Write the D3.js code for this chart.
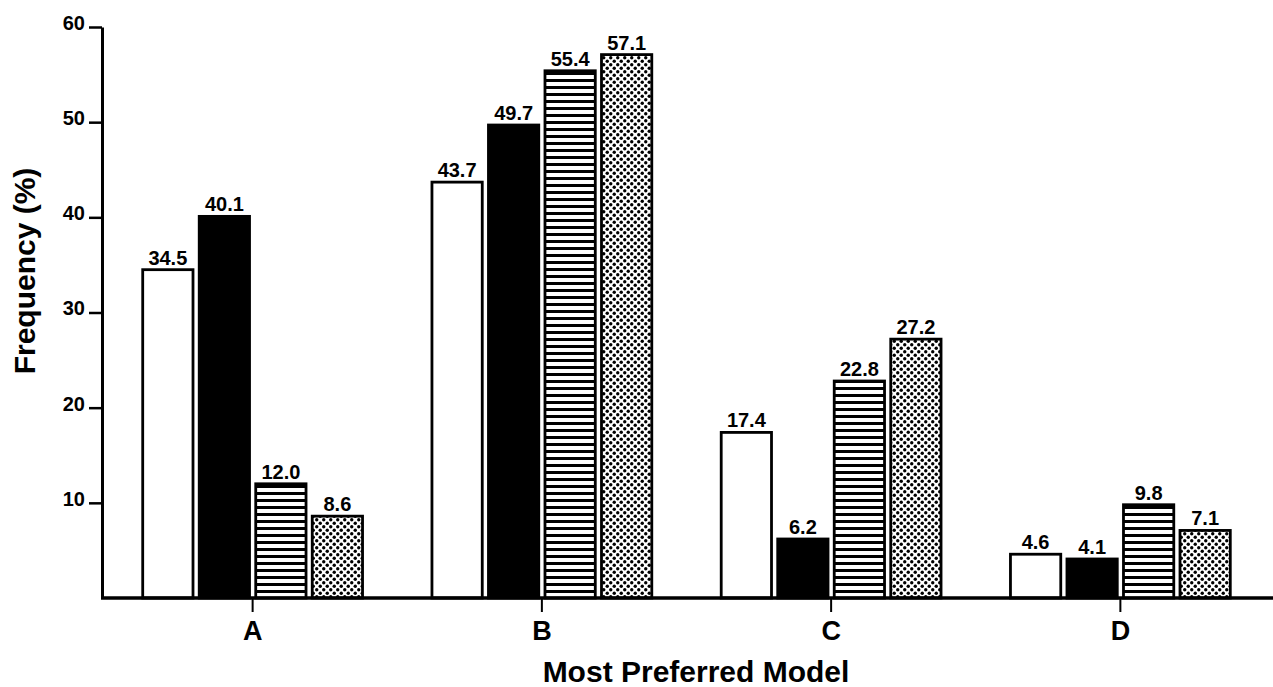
<!DOCTYPE html>
<html>
<head>
<meta charset="utf-8">
<script src="https://cdn.jsdelivr.net/npm/d3@7"></script>
<style>
  body { margin: 0; background: #fff; }
  text { font-family: "Liberation Sans", Arial, Helvetica, sans-serif; font-weight: bold; fill: #000; }
</style>
</head>
<body>
<div id="wrapper"></div>
<script>
// data
const categories = ["A", "B", "C", "D"];
const series = ["s1", "s2", "s3", "s4"];   // white, black, striped, dotted
const s1Values = [34.5, 43.7, 17.4, 4.6];
const s2Values = [40.1, 49.7, 6.2, 4.1];
const s3Values = [12.0, 55.4, 22.8, 9.8];
const s4Values = [8.6, 57.1, 27.2, 7.1];
const yTicks = [10, 20, 30, 40, 50, 60];

const valuesBySeries = { s1: s1Values, s2: s2Values, s3: s3Values, s4: s4Values };
const fills = { s1: "#fff", s2: "#000", s3: "url(#stripes)", s4: "url(#dots)" };

const dims = { width: 1273, height: 687 };

const svg = d3.select("#wrapper").append("svg")
  .attr("width", dims.width)
  .attr("height", dims.height);

// patterns
const defs = svg.append("defs");
const stripes = defs.append("pattern")
  .attr("id", "stripes")
  .attr("patternUnits", "userSpaceOnUse")
  .attr("width", 8).attr("height", 7);
stripes.append("rect").attr("width", 8).attr("height", 7).attr("fill", "#fff");
stripes.append("rect").attr("y", 2).attr("width", 8).attr("height", 3).attr("fill", "#000");

const dots = defs.append("pattern")
  .attr("id", "dots")
  .attr("patternUnits", "userSpaceOnUse")
  .attr("width", 7).attr("height", 7);
dots.append("rect").attr("width", 7).attr("height", 7).attr("fill", "#fff");
dots.append("circle").attr("cx", 1.75).attr("cy", 1.75).attr("r", 1.7).attr("fill", "#000");
dots.append("circle").attr("cx", 5.25).attr("cy", 5.25).attr("r", 1.7).attr("fill", "#000");

// scales
const x = d3.scaleBand()
  .domain(categories)
  .range([108, 1265])
  .paddingInner(0.24)
  .paddingOuter(0.12);

const x1 = d3.scaleBand()
  .domain(series)
  .range([0, x.bandwidth()])
  .paddingInner(0.11);

const y = d3.scaleLinear()
  .domain([0, 60])
  .range([598, 27]);

// bars
const rows = [];
categories.forEach((c, i) => {
  series.forEach(s => rows.push({ cat: c, s: s, v: valuesBySeries[s][i] }));
});

svg.append("g").selectAll("rect")
  .data(rows)
  .join("rect")
  .attr("x", d => x(d.cat) + x1(d.s))
  .attr("y", d => y(d.v))
  .attr("width", x1.bandwidth())
  .attr("height", d => y(0) - y(d.v))
  .attr("fill", d => fills[d.s])
  .attr("stroke", "#000")
  .attr("stroke-width", 2.8);

// value labels
svg.append("g").selectAll("text")
  .data(rows)
  .join("text")
  .attr("x", d => x(d.cat) + x1(d.s) + x1.bandwidth() / 2)
  .attr("y", d => y(d.v) - 5)
  .attr("text-anchor", "middle")
  .attr("font-size", 20)
  .text(d => d.v.toFixed(1));

// y axis
const yAxis = svg.append("g")
  .attr("transform", "translate(102,0)")
  .call(d3.axisLeft(y).tickValues(yTicks).tickSize(13).tickSizeOuter(0).tickPadding(4));
yAxis.select(".domain").attr("stroke", "#000").attr("stroke-width", 3);
yAxis.selectAll(".tick line").attr("stroke", "#000").attr("stroke-width", 2.5);
yAxis.selectAll(".tick text")
  .attr("font-size", 20)
  .attr("font-family", "\"Liberation Sans\", Arial, sans-serif")
  .attr("font-weight", "bold")
  .attr("dy", "0.12em")
  .attr("fill", "#000");

// x axis
const xAxis = svg.append("g")
  .attr("transform", "translate(0,598)")
  .call(d3.axisBottom(x).tickSize(14).tickSizeOuter(0).tickPadding(9));
xAxis.select(".domain").remove();
xAxis.selectAll(".tick line").attr("stroke", "#000").attr("stroke-width", 2);
xAxis.selectAll(".tick text")
  .attr("font-size", 27)
  .attr("font-family", "\"Liberation Sans\", Arial, sans-serif")
  .attr("font-weight", "bold")
  .attr("fill", "#000");

svg.append("line")
  .attr("x1", 101).attr("x2", dims.width)
  .attr("y1", y(0)).attr("y2", y(0))
  .attr("stroke", "#000")
  .attr("stroke-width", 3.5);

// axis titles
svg.append("text")
  .attr("x", 696)
  .attr("y", 682)
  .attr("text-anchor", "middle")
  .attr("font-size", 30)
  .text("Most Preferred Model");

svg.append("text")
  .attr("transform", "translate(35,271) rotate(-90)")
  .attr("text-anchor", "middle")
  .attr("font-size", 30)
  .text("Frequency (%)");
</script>
</body>
</html>
